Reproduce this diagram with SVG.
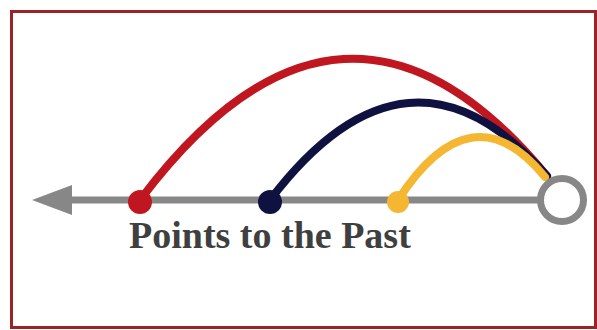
<svg xmlns="http://www.w3.org/2000/svg" width="597" height="330" viewBox="0 0 597 330">
  <style>
    .arc { fill: none; stroke-width: 8; stroke-linecap: round; }
    .axis { stroke: #878787; stroke-width: 7; fill: none; }
    .label { font-family: "Liberation Serif", "Times New Roman", serif; font-weight: bold; font-size: 38px; fill: #3f3f3f; }
  </style>
  <rect x="11.5" y="11.5" width="584" height="316" fill="#ffffff" stroke="#9b2226" stroke-width="3"/>
  <g id="connectors">
    <line class="axis" x1="66" y1="200" x2="540" y2="200"/>
    <polygon points="32,200 72,185 72,215" fill="#878787"/>
    <path class="arc" stroke="#c0161f" d="M140,200 Q343.5,-70 547,176"/>
    <path class="arc" stroke="#0f1240" d="M270,200 Q408.5,18 547,176"/>
    <path class="arc" stroke="#f5b731" d="M398,200 Q471.5,87 545,177"/>
  </g>
  <g id="node-red"><circle cx="140" cy="202" r="12" fill="#c0161f"/></g>
  <g id="node-navy"><circle cx="270" cy="202" r="12" fill="#0f1240"/></g>
  <g id="node-yellow"><circle cx="398" cy="202" r="11" fill="#f5b731"/></g>
  <g id="node-now"><circle cx="562" cy="200" r="21.5" fill="#ffffff" stroke="#878787" stroke-width="7"/></g>
  <g id="label"><text class="label" x="129" y="248">Points to the Past</text></g>
</svg>
